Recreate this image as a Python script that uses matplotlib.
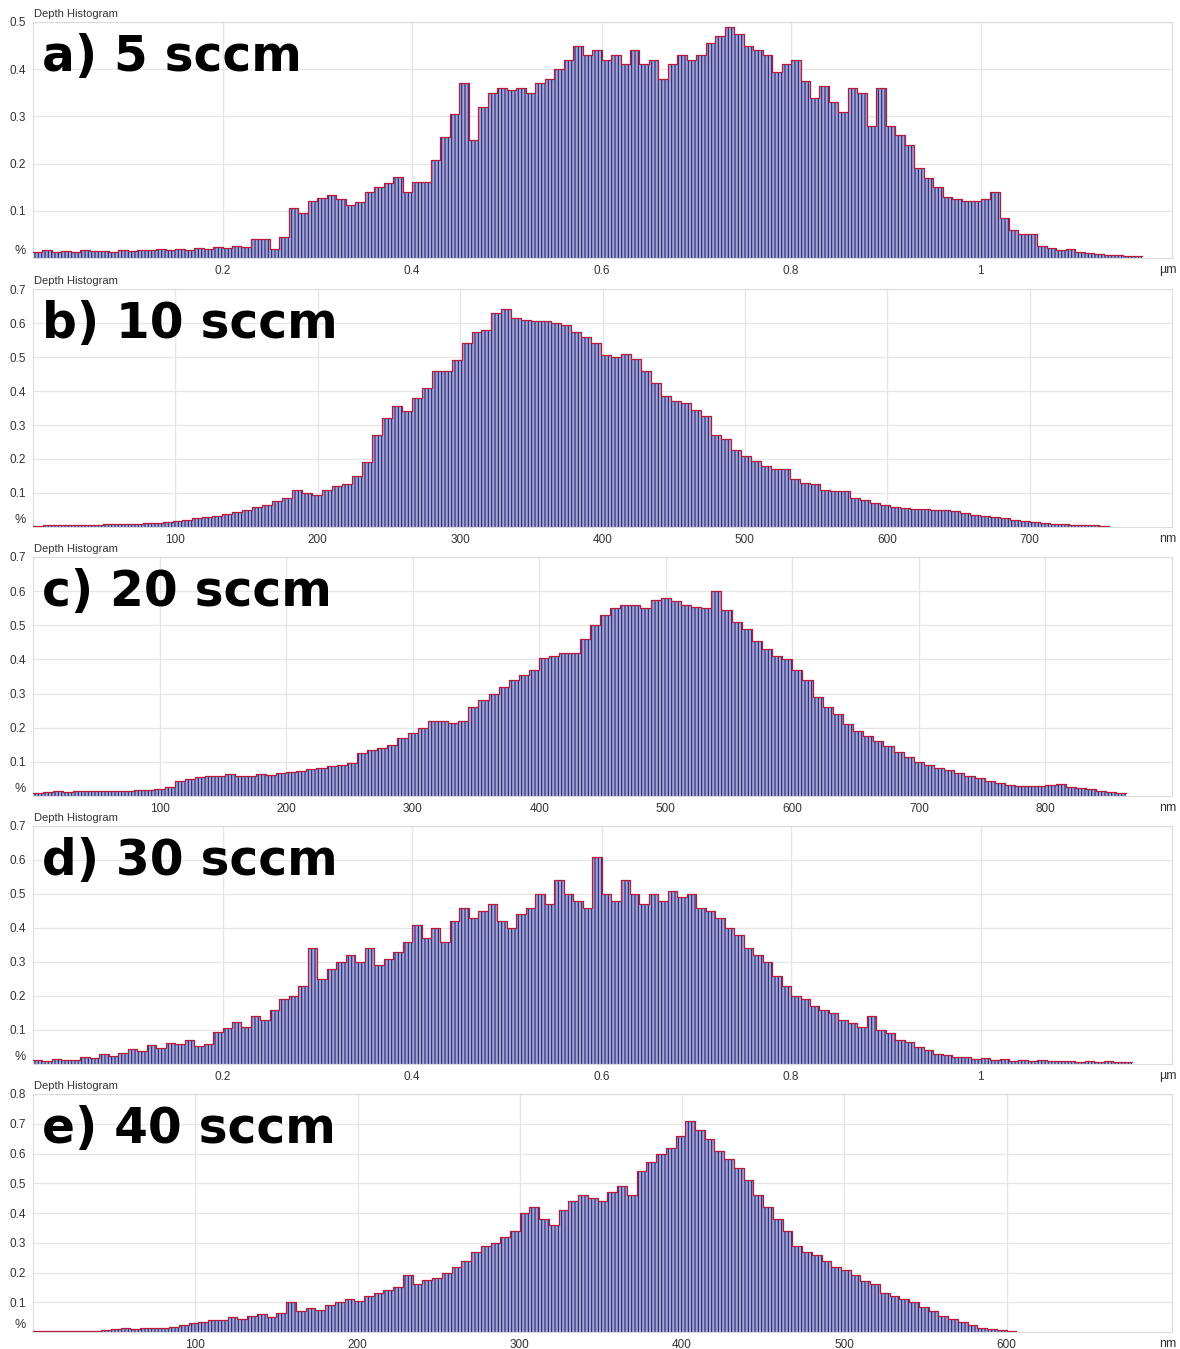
import numpy as np
import matplotlib.pyplot as plt
from matplotlib.transforms import blended_transform_factory

# ------------------ Data (% per bin) ------------------
# a) 5 sccm, bins of 0.01 um starting at 0
a_bin = 0.01
a_vals = [
    0.012, 0.016, 0.013, 0.015, 0.012, 0.016, 0.014, 0.015, 0.013, 0.016,
    0.014, 0.017, 0.016, 0.019, 0.017, 0.020, 0.018, 0.022, 0.020, 0.024,
    0.022, 0.026, 0.024, 0.040, 0.041, 0.020, 0.045, 0.105, 0.095, 0.120,
    0.128, 0.133, 0.125, 0.112, 0.118, 0.140, 0.150, 0.158, 0.172, 0.140,
    0.162, 0.160, 0.207, 0.256, 0.305, 0.370, 0.250, 0.320, 0.350, 0.360,
    0.355, 0.360, 0.350, 0.370, 0.380, 0.400, 0.420, 0.450, 0.430, 0.440,
    0.420, 0.430, 0.410, 0.440, 0.410, 0.420, 0.380, 0.410, 0.430, 0.420,
    0.430, 0.455, 0.470, 0.490, 0.475, 0.450, 0.440, 0.430, 0.395, 0.410,
    0.420, 0.375, 0.340, 0.365, 0.330, 0.310, 0.360, 0.350, 0.280, 0.360,
    0.280, 0.260, 0.240, 0.190, 0.170, 0.150, 0.130, 0.125, 0.120, 0.120,
    0.125, 0.140, 0.085, 0.060, 0.050, 0.050, 0.025, 0.022, 0.018, 0.020,
    0.012, 0.010, 0.008, 0.007, 0.006, 0.005, 0.004,
]

# b) 10 sccm, bins of 7 nm
b_bin = 7
b_vals = [
    0.004, 0.005, 0.005, 0.006, 0.006, 0.007, 0.007, 0.008, 0.008, 0.009,
    0.010, 0.012, 0.013, 0.015, 0.018, 0.022, 0.025, 0.028, 0.033, 0.038,
    0.044, 0.050, 0.058, 0.065, 0.075, 0.085, 0.110, 0.100, 0.095, 0.110,
    0.120, 0.125, 0.150, 0.190, 0.270, 0.320, 0.355, 0.340, 0.380, 0.410,
    0.460, 0.460, 0.490, 0.540, 0.575, 0.580, 0.630, 0.640, 0.615, 0.610,
    0.605, 0.605, 0.600, 0.595, 0.575, 0.560, 0.540, 0.505, 0.500, 0.510,
    0.495, 0.460, 0.425, 0.385, 0.370, 0.365, 0.345, 0.325, 0.270, 0.260,
    0.225, 0.210, 0.195, 0.180, 0.170, 0.170, 0.140, 0.130, 0.125, 0.110,
    0.105, 0.105, 0.085, 0.078, 0.072, 0.066, 0.058, 0.056, 0.053, 0.052,
    0.050, 0.050, 0.046, 0.040, 0.036, 0.033, 0.030, 0.026, 0.020, 0.017,
    0.014, 0.011, 0.009, 0.008, 0.007, 0.006, 0.005, 0.003,
]

# c) 20 sccm, bins of 8 nm
c_bin = 8
c_vals = [
    0.010, 0.012, 0.014, 0.013, 0.015, 0.014, 0.016, 0.014, 0.015, 0.016,
    0.017, 0.019, 0.020, 0.025, 0.045, 0.050, 0.055, 0.058, 0.060, 0.065,
    0.058, 0.060, 0.065, 0.062, 0.067, 0.070, 0.072, 0.078, 0.082, 0.088,
    0.092, 0.098, 0.125, 0.135, 0.140, 0.150, 0.170, 0.185, 0.200, 0.220,
    0.220, 0.215, 0.220, 0.260, 0.280, 0.300, 0.320, 0.340, 0.355, 0.370,
    0.405, 0.410, 0.420, 0.420, 0.460, 0.500, 0.530, 0.550, 0.560, 0.560,
    0.550, 0.575, 0.580, 0.570, 0.560, 0.555, 0.550, 0.600, 0.545, 0.510,
    0.490, 0.455, 0.430, 0.410, 0.400, 0.370, 0.340, 0.290, 0.260, 0.240,
    0.210, 0.190, 0.175, 0.160, 0.145, 0.130, 0.115, 0.100, 0.090, 0.083,
    0.075, 0.068, 0.060, 0.053, 0.045, 0.038, 0.033, 0.030, 0.030, 0.030,
    0.032, 0.034, 0.027, 0.022, 0.020, 0.016, 0.013, 0.010,
]

# d) 30 sccm, bins of 0.01 um
d_bin = 0.01
d_vals = [
    0.012, 0.010, 0.014, 0.011, 0.013, 0.022, 0.018, 0.028, 0.024, 0.032,
    0.045, 0.038, 0.055, 0.048, 0.062, 0.058, 0.070, 0.052, 0.060, 0.095,
    0.105, 0.125, 0.110, 0.140, 0.130, 0.160, 0.190, 0.200, 0.230, 0.340,
    0.250, 0.280, 0.300, 0.320, 0.300, 0.340, 0.290, 0.310, 0.330, 0.360,
    0.410, 0.370, 0.400, 0.360, 0.420, 0.460, 0.430, 0.450, 0.470, 0.420,
    0.400, 0.440, 0.460, 0.500, 0.470, 0.540, 0.500, 0.480, 0.460, 0.610,
    0.500, 0.480, 0.540, 0.500, 0.470, 0.500, 0.480, 0.510, 0.490, 0.500,
    0.460, 0.450, 0.430, 0.400, 0.380, 0.340, 0.320, 0.300, 0.260, 0.230,
    0.200, 0.190, 0.170, 0.160, 0.150, 0.130, 0.120, 0.110, 0.140, 0.100,
    0.090, 0.070, 0.065, 0.050, 0.040, 0.030, 0.026, 0.020, 0.022, 0.015,
    0.018, 0.012, 0.014, 0.010, 0.012, 0.009, 0.011, 0.008, 0.010, 0.008,
    0.007, 0.009, 0.006, 0.008, 0.006, 0.005,
]

# e) 40 sccm, bins of 6 nm
e_bin = 6
e_vals = [
    0.002, 0.002, 0.002, 0.002, 0.003, 0.002, 0.003, 0.008, 0.010, 0.012,
    0.010, 0.014, 0.012, 0.015, 0.018, 0.025, 0.030, 0.035, 0.040, 0.042,
    0.050, 0.045, 0.055, 0.060, 0.050, 0.065, 0.100, 0.070, 0.080, 0.075,
    0.090, 0.100, 0.110, 0.105, 0.120, 0.130, 0.140, 0.150, 0.190, 0.160,
    0.175, 0.180, 0.200, 0.220, 0.240, 0.270, 0.290, 0.300, 0.320, 0.340,
    0.400, 0.420, 0.380, 0.360, 0.410, 0.440, 0.460, 0.450, 0.440, 0.470,
    0.490, 0.460, 0.540, 0.570, 0.600, 0.620, 0.660, 0.710, 0.680, 0.650,
    0.610, 0.580, 0.550, 0.510, 0.460, 0.420, 0.380, 0.340, 0.290, 0.270,
    0.260, 0.240, 0.220, 0.210, 0.190, 0.170, 0.160, 0.130, 0.120, 0.110,
    0.100, 0.085, 0.070, 0.055, 0.045, 0.035, 0.025, 0.015, 0.010, 0.008,
    0.005,
]

# Axis settings per panel
um_ticks = [0.2, 0.4, 0.6, 0.8, 1.0]
um_labels = ["0.2", "0.4", "0.6", "0.8", "1"]
b_ticks = [100, 200, 300, 400, 500, 600, 700]
c_ticks = [100, 200, 300, 400, 500, 600, 700, 800]
e_ticks = [100, 200, 300, 400, 500, 600]

# Colours
FILL = "#a6a6d6"
STRIPE = "#262670"
RED = "#b81a3a"
GRID = "#e6e6e6"
TEXT = "#333333"

plt.rcParams["hatch.linewidth"] = 0.8


def draw_panel(fig, rect, values, bin_w, xmax, ymax, xticks, xticklabels, unit, label):
    ax = fig.add_axes(rect)
    values = np.array(values)
    edges = np.arange(len(values)) * bin_w

    ax.bar(edges, values, width=bin_w, align="edge", color=FILL,
           edgecolor=STRIPE, linewidth=0, hatch="|||||", zorder=2)
    ax.step(np.append(edges, edges[-1] + bin_w), np.append(values, values[-1]),
            where="post", color=RED, lw=0.9, zorder=3)

    ax.set_xlim(0, xmax)
    ax.set_ylim(0, ymax)

    yt = np.arange(0.1, ymax + 0.001, 0.1)
    ax.set_yticks(yt)
    ax.set_yticklabels([f"{v:.1f}" for v in yt], fontsize=8.5, color=TEXT,
                       family="Liberation Sans")
    ax.set_xticks(xticks)
    ax.set_xticklabels(xticklabels, fontsize=8.5, color=TEXT, family="Liberation Sans")
    ax.tick_params(length=0, pad=5)

    ax.grid(True, color=GRID, lw=0.9)
    ax.set_axisbelow(True)
    for s in ax.spines.values():
        s.set_color("#dcdcdc")
        s.set_linewidth(0.8)

    trans = blended_transform_factory(ax.transAxes, ax.transData)
    ax.text(-0.006, 0.003 * ymax / 0.5, "%", transform=trans, ha="right", va="bottom",
            fontsize=9, color=TEXT, family="Liberation Sans")
    ax.text(1.004, -0.05, unit, transform=ax.transAxes, ha="right", va="center",
            fontsize=9, color=TEXT, family="Liberation Sans")
    ax.text(0.001, 1.012, "Depth Histogram", transform=ax.transAxes, ha="left",
            va="bottom", fontsize=8, color=TEXT, family="Liberation Sans")
    ax.text(0.008, 0.794, label, transform=ax.transAxes, ha="left", va="baseline",
            fontsize=35, fontweight="bold", color="black", family="DejaVu Sans", zorder=5)
    return ax


fig = plt.figure(figsize=(11.8, 13.49), dpi=100)

W = 1180.0
H = 1349.0
left = 33 / W
width = 1139 / W


def rect(top, bottom):
    return [left, 1 - bottom / H, width, (bottom - top) / H]


draw_panel(fig, rect(22, 258), a_vals, a_bin, 1.202, 0.5, um_ticks, um_labels, "µm", "a) 5 sccm")
draw_panel(fig, rect(289, 527), b_vals, b_bin, 800, 0.7, b_ticks,
           [str(t) for t in b_ticks], "nm", "b) 10 sccm")
draw_panel(fig, rect(557, 796), c_vals, c_bin, 900, 0.7, c_ticks,
           [str(t) for t in c_ticks], "nm", "c) 20 sccm")
draw_panel(fig, rect(826, 1064), d_vals, d_bin, 1.202, 0.7, um_ticks, um_labels, "µm", "d) 30 sccm")
draw_panel(fig, rect(1094, 1332), e_vals, e_bin, 702, 0.8, e_ticks,
           [str(t) for t in e_ticks], "nm", "e) 40 sccm")

fig.savefig("out.png", dpi=100)
plt.close(fig)
